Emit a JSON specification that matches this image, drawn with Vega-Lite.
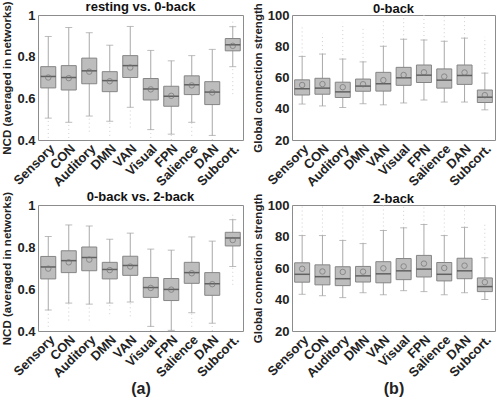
{
"$schema": "https://vega.github.io/schema/vega-lite/v6.json",
"padding": {"left": 1, "top": 0, "right": 3, "bottom": 0},
"background": "white",
"datasets": {
"boxes": [
{"panel":"rv0","network":"Sensory","lower":0.505,"q1":0.65,"median":0.705,"q3":0.752,"upper":0.897,"mean":0.70,"outmin":0.41,"outmax":null},
{"panel":"rv0","network":"CON","lower":0.485,"q1":0.64,"median":0.70,"q3":0.757,"upper":0.94,"mean":0.697,"outmin":0.41,"outmax":null},
{"panel":"rv0","network":"Auditory","lower":0.515,"q1":0.67,"median":0.732,"q3":0.793,"upper":0.915,"mean":0.728,"outmin":0.44,"outmax":null},
{"panel":"rv0","network":"DMN","lower":0.49,"q1":0.632,"median":0.685,"q3":0.728,"upper":0.855,"mean":0.682,"outmin":0.42,"outmax":null},
{"panel":"rv0","network":"VAN","lower":0.557,"q1":0.70,"median":0.757,"q3":0.805,"upper":0.945,"mean":0.748,"outmin":0.46,"outmax":null},
{"panel":"rv0","network":"Visual","lower":0.45,"q1":0.592,"median":0.645,"q3":0.695,"upper":0.83,"mean":0.643,"outmin":0.41,"outmax":null},
{"panel":"rv0","network":"FPN","lower":0.428,"q1":0.562,"median":0.61,"q3":0.658,"upper":0.78,"mean":0.612,"outmin":0.4,"outmax":null},
{"panel":"rv0","network":"Salience","lower":0.485,"q1":0.618,"median":0.665,"q3":0.708,"upper":0.805,"mean":0.662,"outmin":0.42,"outmax":null},
{"panel":"rv0","network":"DAN","lower":0.422,"q1":0.57,"median":0.63,"q3":0.68,"upper":0.835,"mean":0.628,"outmin":0.4,"outmax":null},
{"panel":"rv0","network":"Subcort.","lower":0.752,"q1":0.828,"median":0.857,"q3":0.887,"upper":0.944,"mean":0.852,"outmin":0.62,"outmax":0.97},
{"panel":"0v2","network":"Sensory","lower":0.50,"q1":0.648,"median":0.705,"q3":0.755,"upper":0.85,"mean":0.697,"outmin":0.42,"outmax":null},
{"panel":"0v2","network":"CON","lower":0.533,"q1":0.678,"median":0.735,"q3":0.782,"upper":0.905,"mean":0.727,"outmin":0.45,"outmax":null},
{"panel":"0v2","network":"Auditory","lower":0.528,"q1":0.687,"median":0.75,"q3":0.80,"upper":0.90,"mean":0.74,"outmin":0.45,"outmax":null},
{"panel":"0v2","network":"DMN","lower":0.533,"q1":0.648,"median":0.693,"q3":0.727,"upper":0.837,"mean":0.69,"outmin":0.48,"outmax":null},
{"panel":"0v2","network":"VAN","lower":0.538,"q1":0.665,"median":0.712,"q3":0.756,"upper":0.866,"mean":0.707,"outmin":0.47,"outmax":null},
{"panel":"0v2","network":"Visual","lower":0.422,"q1":0.56,"median":0.607,"q3":0.655,"upper":0.79,"mean":0.605,"outmin":0.4,"outmax":null},
{"panel":"0v2","network":"FPN","lower":0.403,"q1":0.545,"median":0.598,"q3":0.65,"upper":0.785,"mean":0.597,"outmin":null,"outmax":null},
{"panel":"0v2","network":"Salience","lower":0.487,"q1":0.627,"median":0.678,"q3":0.727,"upper":0.848,"mean":0.675,"outmin":0.42,"outmax":null},
{"panel":"0v2","network":"DAN","lower":0.437,"q1":0.57,"median":0.625,"q3":0.678,"upper":0.828,"mean":0.623,"outmin":0.4,"outmax":null},
{"panel":"0v2","network":"Subcort.","lower":0.707,"q1":0.805,"median":0.843,"q3":0.87,"upper":0.93,"mean":0.833,"outmin":0.62,"outmax":0.96},
{"panel":"b0","network":"Sensory","lower":43,"q1":48.8,"median":52.8,"q3":58.5,"upper":73.5,"mean":55.2,"outmin":null,"outmax":92},
{"panel":"b0","network":"CON","lower":41.8,"q1":49.3,"median":53.2,"q3":59.5,"upper":75,"mean":55.8,"outmin":null,"outmax":88},
{"panel":"b0","network":"Auditory","lower":40.8,"q1":47.2,"median":50.8,"q3":57,"upper":71.8,"mean":53.8,"outmin":null,"outmax":95},
{"panel":"b0","network":"DMN","lower":43.2,"q1":51.2,"median":54.5,"q3":59,"upper":70,"mean":55.7,"outmin":null,"outmax":92},
{"panel":"b0","network":"VAN","lower":42.5,"q1":51.3,"median":56,"q3":63.3,"upper":80,"mean":58.3,"outmin":null,"outmax":97},
{"panel":"b0","network":"Visual","lower":43.7,"q1":55,"median":59.8,"q3":66.5,"upper":84.5,"mean":61.6,"outmin":null,"outmax":100},
{"panel":"b0","network":"FPN","lower":45.6,"q1":56.8,"median":61.5,"q3":68,"upper":84,"mean":63.3,"outmin":null,"outmax":100},
{"panel":"b0","network":"Salience","lower":44.3,"q1":53.2,"median":58.3,"q3":65.5,"upper":83.2,"mean":60.6,"outmin":null,"outmax":100},
{"panel":"b0","network":"DAN","lower":44.3,"q1":55.6,"median":61.3,"q3":68,"upper":85.2,"mean":63.2,"outmin":null,"outmax":100},
{"panel":"b0","network":"Subcort.","lower":39.3,"q1":44,"median":47.4,"q3":52,"upper":62.8,"mean":48.7,"outmin":null,"outmax":86},
{"panel":"b2","network":"Sensory","lower":43.3,"q1":51,"median":56,"q3":63.3,"upper":80.6,"mean":59.5,"outmin":null,"outmax":100},
{"panel":"b2","network":"CON","lower":42.4,"q1":49.3,"median":54.5,"q3":62,"upper":80.6,"mean":57.8,"outmin":null,"outmax":100},
{"panel":"b2","network":"Auditory","lower":41.2,"q1":48.8,"median":53.2,"q3":60.8,"upper":77.5,"mean":57.5,"outmin":null,"outmax":100},
{"panel":"b2","network":"DMN","lower":44.3,"q1":51.1,"median":55,"q3":61,"upper":75.5,"mean":57.7,"outmin":null,"outmax":100},
{"panel":"b2","network":"VAN","lower":43,"q1":50.6,"median":56.3,"q3":64,"upper":83.8,"mean":59.8,"outmin":null,"outmax":100},
{"panel":"b2","network":"Visual","lower":45.6,"q1":52.6,"median":58.2,"q3":66,"upper":85.5,"mean":61,"outmin":null,"outmax":100},
{"panel":"b2","network":"FPN","lower":45,"q1":54.3,"median":59.3,"q3":68,"upper":87.6,"mean":62.8,"outmin":null,"outmax":100},
{"panel":"b2","network":"Salience","lower":43,"q1":51.8,"median":56,"q3":63.5,"upper":80.6,"mean":60,"outmin":null,"outmax":100},
{"panel":"b2","network":"DAN","lower":44.3,"q1":53.2,"median":58.2,"q3":66.2,"upper":85.8,"mean":61.5,"outmin":null,"outmax":100},
{"panel":"b2","network":"Subcort.","lower":40,"q1":45,"median":48.2,"q3":53.7,"upper":66.5,"mean":51,"outmin":null,"outmax":88}
]
},
"data": {"name": "boxes"},
"bounds": "flush",
"columns": 2,
"spacing": {"row": 65, "column": 49},
"concat": [
{"width": 205, "height": 125,
 "title": {"text": "resting vs. 0-back", "dy": 15},
 "transform": [{"filter": "datum.panel === 'rv0'"}],
 "encoding": {"x": {"field": "network", "type": "nominal", "sort": ["Sensory","CON","Auditory","DMN","VAN","Visual","FPN","Salience","DAN","Subcort."], "title": null, "axis": {"labelAngle": -45}}},
 "layer": [
  {"mark": {"type": "rule", "color": "#cfcfcf", "strokeDash": [1, 3]}, "encoding": {"y": {"field": "outmin", "type": "quantitative", "scale": {"domain": [0.4, 1], "nice": false}, "axis": {"values": [0.4, 0.6, 0.8, 1], "format": "~g", "labelOverlap": false}, "title": "NCD (averaged in networks)"}, "y2": {"field": "lower"}}},
  {"mark": {"type": "rule", "color": "#cfcfcf", "strokeDash": [1, 3]}, "encoding": {"y": {"field": "upper", "type": "quantitative"}, "y2": {"field": "outmax"}}},
  {"mark": {"type": "rule", "color": "#a8a8a8"}, "encoding": {"y": {"field": "lower", "type": "quantitative"}, "y2": {"field": "upper"}}},
  {"mark": {"type": "tick", "color": "#a0a0a0", "size": 7, "thickness": 1}, "encoding": {"y": {"field": "lower", "type": "quantitative"}}},
  {"mark": {"type": "tick", "color": "#a0a0a0", "size": 7, "thickness": 1}, "encoding": {"y": {"field": "upper", "type": "quantitative"}}},
  {"mark": {"type": "bar", "size": 15, "color": "#bdbdbd", "stroke": "#858585", "strokeWidth": 1}, "encoding": {"y": {"field": "q1", "type": "quantitative"}, "y2": {"field": "q3"}}},
  {"mark": {"type": "tick", "color": "#3a3a3a", "size": 15, "thickness": 1.5}, "encoding": {"y": {"field": "median", "type": "quantitative"}}},
  {"mark": {"type": "point", "shape": "circle", "filled": false, "color": "#737373", "size": 30, "strokeWidth": 1}, "encoding": {"y": {"field": "mean", "type": "quantitative"}}}
 ]},
{"width": 203, "height": 125,
 "title": {"text": "0-back", "dy": 15},
 "transform": [{"filter": "datum.panel === 'b0'"}],
 "encoding": {"x": {"field": "network", "type": "nominal", "sort": ["Sensory","CON","Auditory","DMN","VAN","Visual","FPN","Salience","DAN","Subcort."], "title": null, "axis": {"labelAngle": -45}}},
 "layer": [
  {"mark": {"type": "rule", "color": "#cfcfcf", "strokeDash": [1, 3]}, "encoding": {"y": {"field": "upper", "type": "quantitative", "scale": {"domain": [20, 100], "nice": false}, "axis": {"values": [20, 40, 60, 80, 100], "tickCount": 5, "labelOverlap": false}, "title": "Global connection strength"}, "y2": {"field": "outmax"}}},
  {"mark": {"type": "rule", "color": "#a8a8a8"}, "encoding": {"y": {"field": "lower", "type": "quantitative"}, "y2": {"field": "upper"}}},
  {"mark": {"type": "tick", "color": "#a0a0a0", "size": 7, "thickness": 1}, "encoding": {"y": {"field": "lower", "type": "quantitative"}}},
  {"mark": {"type": "tick", "color": "#a0a0a0", "size": 7, "thickness": 1}, "encoding": {"y": {"field": "upper", "type": "quantitative"}}},
  {"mark": {"type": "bar", "size": 15, "color": "#bdbdbd", "stroke": "#858585", "strokeWidth": 1}, "encoding": {"y": {"field": "q1", "type": "quantitative"}, "y2": {"field": "q3"}}},
  {"mark": {"type": "tick", "color": "#3a3a3a", "size": 15, "thickness": 1.5}, "encoding": {"y": {"field": "median", "type": "quantitative"}}},
  {"mark": {"type": "point", "shape": "circle", "filled": false, "color": "#737373", "size": 30, "strokeWidth": 1}, "encoding": {"y": {"field": "mean", "type": "quantitative"}}}
 ]},
{"width": 205, "height": 126,
 "title": {"text": "0-back vs. 2-back", "dy": 15},
 "transform": [{"filter": "datum.panel === '0v2'"}],
 "encoding": {"x": {"field": "network", "type": "nominal", "sort": ["Sensory","CON","Auditory","DMN","VAN","Visual","FPN","Salience","DAN","Subcort."], "title": "(a)", "axis": {"labelAngle": -45, "titleFontSize": 16, "titlePadding": 1}}},
 "layer": [
  {"mark": {"type": "rule", "color": "#cfcfcf", "strokeDash": [1, 3]}, "encoding": {"y": {"field": "outmin", "type": "quantitative", "scale": {"domain": [0.4, 1], "nice": false}, "axis": {"values": [0.4, 0.6, 0.8, 1], "format": "~g", "labelOverlap": false}, "title": "NCD (averaged in networks)"}, "y2": {"field": "lower"}}},
  {"mark": {"type": "rule", "color": "#cfcfcf", "strokeDash": [1, 3]}, "encoding": {"y": {"field": "upper", "type": "quantitative"}, "y2": {"field": "outmax"}}},
  {"mark": {"type": "rule", "color": "#a8a8a8"}, "encoding": {"y": {"field": "lower", "type": "quantitative"}, "y2": {"field": "upper"}}},
  {"mark": {"type": "tick", "color": "#a0a0a0", "size": 7, "thickness": 1}, "encoding": {"y": {"field": "lower", "type": "quantitative"}}},
  {"mark": {"type": "tick", "color": "#a0a0a0", "size": 7, "thickness": 1}, "encoding": {"y": {"field": "upper", "type": "quantitative"}}},
  {"mark": {"type": "bar", "size": 15, "color": "#bdbdbd", "stroke": "#858585", "strokeWidth": 1}, "encoding": {"y": {"field": "q1", "type": "quantitative"}, "y2": {"field": "q3"}}},
  {"mark": {"type": "tick", "color": "#3a3a3a", "size": 15, "thickness": 1.5}, "encoding": {"y": {"field": "median", "type": "quantitative"}}},
  {"mark": {"type": "point", "shape": "circle", "filled": false, "color": "#737373", "size": 30, "strokeWidth": 1}, "encoding": {"y": {"field": "mean", "type": "quantitative"}}}
 ]},
{"width": 203, "height": 126,
 "title": {"text": "2-back", "dy": 15},
 "transform": [{"filter": "datum.panel === 'b2'"}],
 "encoding": {"x": {"field": "network", "type": "nominal", "sort": ["Sensory","CON","Auditory","DMN","VAN","Visual","FPN","Salience","DAN","Subcort."], "title": "(b)", "axis": {"labelAngle": -45, "titleFontSize": 16, "titlePadding": 1}}},
 "layer": [
  {"mark": {"type": "rule", "color": "#cfcfcf", "strokeDash": [1, 3]}, "encoding": {"y": {"field": "upper", "type": "quantitative", "scale": {"domain": [20, 100], "nice": false}, "axis": {"values": [20, 40, 60, 80, 100], "tickCount": 5, "labelOverlap": false}, "title": "Global connection strength"}, "y2": {"field": "outmax"}}},
  {"mark": {"type": "rule", "color": "#a8a8a8"}, "encoding": {"y": {"field": "lower", "type": "quantitative"}, "y2": {"field": "upper"}}},
  {"mark": {"type": "tick", "color": "#a0a0a0", "size": 7, "thickness": 1}, "encoding": {"y": {"field": "lower", "type": "quantitative"}}},
  {"mark": {"type": "tick", "color": "#a0a0a0", "size": 7, "thickness": 1}, "encoding": {"y": {"field": "upper", "type": "quantitative"}}},
  {"mark": {"type": "bar", "size": 15, "color": "#bdbdbd", "stroke": "#858585", "strokeWidth": 1}, "encoding": {"y": {"field": "q1", "type": "quantitative"}, "y2": {"field": "q3"}}},
  {"mark": {"type": "tick", "color": "#3a3a3a", "size": 15, "thickness": 1.5}, "encoding": {"y": {"field": "median", "type": "quantitative"}}},
  {"mark": {"type": "point", "shape": "circle", "filled": false, "color": "#737373", "size": 30, "strokeWidth": 1}, "encoding": {"y": {"field": "mean", "type": "quantitative"}}}
 ]}
],
"config": {
 "font": "Liberation Sans",
 "view": {"stroke": "#8c8c8c", "strokeWidth": 1},
 "title": {"fontSize": 13, "fontWeight": "bold", "color": "#111", "offset": 2},
 "axis": {"labelFontSize": 13, "labelFontWeight": "bold", "labelColor": "#222", "titleFontSize": 11.5, "titleFontWeight": "bold", "titleColor": "#222", "grid": false, "domain": false, "ticks": false, "labelPadding": 3, "titlePadding": 4, "labelOverlap": false},
 "axisY": {"labelOverlap": false},
 "axisX": {"labelFontSize": 13, "labelPadding": 2}
}
}
